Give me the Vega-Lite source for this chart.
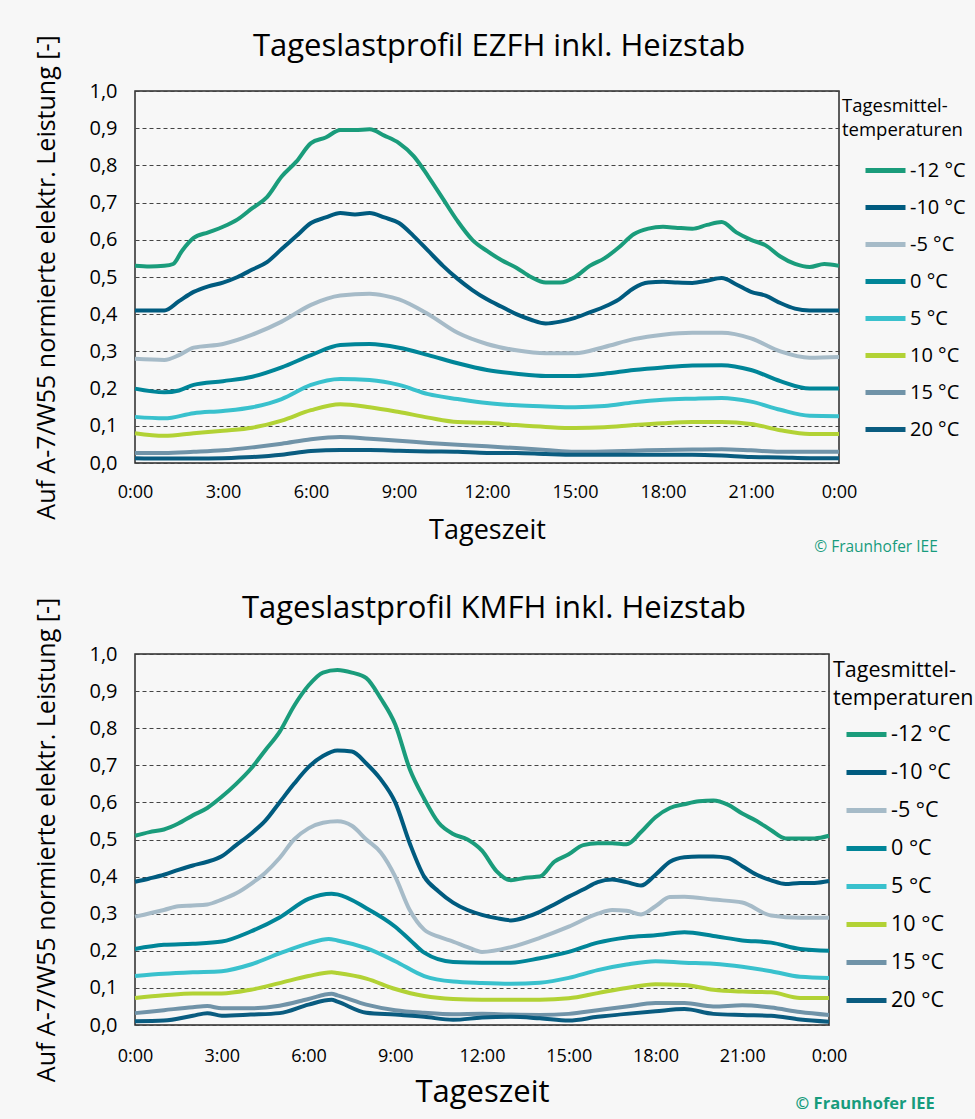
{
"$schema": "https://vega.github.io/schema/vega-lite/v6.json",
"background": "#f7f7f7",
"padding": {"left": 34, "top": 30, "right": 5, "bottom": 12},
"config": {
  "font": "Open Sans",
  "view": {"stroke": "#2a2a2a", "strokeWidth": 1.5},
  "axis": {"domain": false, "ticks": false, "labelColor": "#000", "titleColor": "#000", "titleFontWeight": "normal"},
  "axisY": {"grid": true, "gridColor": "#444", "gridDash": [4, 3], "gridWidth": 1, "labelPadding": 18, "titlePadding": 29, "titleFontSize": 25, "labelFontSize": 20},
  "axisX": {"grid": false, "labelFontSize": 18, "labelPadding": 20, "titlePadding": 16, "labelFlush": false},
  "legend": {"titleFontWeight": "normal", "titleColor": "#000", "labelColor": "#000", "symbolType": "stroke", "symbolStrokeWidth": 5, "symbolSize": 1600, "clipHeight": 30, "padding": 6, "labelOffset": 2},
  "title": {"fontWeight": "normal", "color": "#000"}
},
"data": {"name": "d"},
"spacing": 36,
"resolve": {"scale": {"color": "independent"}, "legend": {"color": "independent"}},
"vconcat": [
  {
    "title": {"text": "© Fraunhofer IEE", "orient": "bottom", "anchor": "end", "frame": "bounds", "fontSize": 15.5, "color": "#179c7d", "offset": -4, "dx": -35},
    "resolve": {"scale": {"color": "independent"}, "legend": {"color": "independent"}},
    "vconcat": [{
      "width": 704, "height": 372,
      "title": {"text": "Tageslastprofil EZFH inkl. Heizstab", "fontSize": 31, "anchor": "middle", "frame": "group", "offset": -28, "dx": 12},
      "transform": [{"filter": "datum.p == 1"}],
      "mark": {"type": "line", "strokeWidth": 4, "interpolate": "monotone"},
      "encoding": {
        "x": {"field": "t", "type": "quantitative", "scale": {"domain": [0, 24], "nice": false, "zero": false}, "axis": {"values": [0, 3, 6, 9, 12, 15, 18, 21, 24], "labelExpr": "(datum.value == 24 ? 0 : datum.value) + ':00'", "title": "Tageszeit", "titleFontSize": 27}},
        "y": {"field": "v", "type": "quantitative", "scale": {"domain": [0, 1], "nice": false}, "axis": {"values": [0, 0.1, 0.2, 0.3, 0.4, 0.5, 0.6, 0.7, 0.8, 0.9, 1], "labelExpr": "replace(format(datum.value, '.1f'), '.', ',')", "title": "Auf A-7/W55 normierte elektr. Leistung [-]"}},
        "color": {"field": "T", "type": "nominal", "scale": {"domain": [-12, -10, -5, 0, 5, 10, 15, 20], "range": ["#1a9c7b", "#005b7f", "#a6bbc8", "#008598", "#39c1cd", "#b2d235", "#7093a8", "#0a5c80"]}, "legend": {"title": ["Tagesmittel-", "temperaturen"], "labelExpr": "datum.label + ' °C'", "titleFontSize": 18.5, "titleLineHeight": 24, "labelFontSize": 20, "symbolOffset": 21, "rowPadding": 7, "offset": -11, "titlePadding": 16}}
      }
    }]
  },
  {
    "title": {"text": "© Fraunhofer IEE", "orient": "bottom", "anchor": "end", "frame": "bounds", "fontSize": 16.5, "fontWeight": "bold", "color": "#179c7d", "offset": -12, "dx": -46},
    "resolve": {"scale": {"color": "independent"}, "legend": {"color": "independent"}},
    "vconcat": [{
      "width": 694, "height": 371,
      "title": {"text": "Tageslastprofil KMFH inkl. Heizstab", "fontSize": 31, "anchor": "middle", "frame": "group", "offset": -28, "dx": 12},
      "transform": [{"filter": "datum.p == 2"}],
      "mark": {"type": "line", "strokeWidth": 4, "interpolate": "monotone"},
      "encoding": {
        "x": {"field": "t", "type": "quantitative", "scale": {"domain": [0, 24], "nice": false, "zero": false}, "axis": {"values": [0, 3, 6, 9, 12, 15, 18, 21, 24], "labelExpr": "(datum.value == 24 ? 0 : datum.value) + ':00'", "title": "Tageszeit", "titleFontSize": 31, "labelPadding": 22, "titlePadding": 12}},
        "y": {"field": "v", "type": "quantitative", "scale": {"domain": [0, 1], "nice": false}, "axis": {"values": [0, 0.1, 0.2, 0.3, 0.4, 0.5, 0.6, 0.7, 0.8, 0.9, 1], "labelExpr": "replace(format(datum.value, '.1f'), '.', ',')", "title": "Auf A-7/W55 normierte elektr. Leistung [-]"}},
        "color": {"field": "T", "type": "nominal", "scale": {"domain": [-12, -10, -5, 0, 5, 10, 15, 20], "range": ["#1a9c7b", "#005b7f", "#a6bbc8", "#008598", "#39c1cd", "#b2d235", "#7093a8", "#0a5c80"]}, "legend": {"title": ["Tagesmittel-", "temperaturen"], "labelExpr": "datum.label + ' °C'", "titleFontSize": 21.5, "titleLineHeight": 28, "labelFontSize": 21.5, "symbolOffset": 11, "rowPadding": 8, "offset": -10, "titlePadding": 10}}
      }
    }]
  }
],
"datasets": {"d": [
{"p":1,"T":-12,"t":0,"v":0.53},{"p":1,"T":-12,"t":0.5,"v":0.528},{"p":1,"T":-12,"t":1,"v":0.53},{"p":1,"T":-12,"t":1.3,"v":0.535},{"p":1,"T":-12,"t":1.6,"v":0.57},{"p":1,"T":-12,"t":2,"v":0.605},{"p":1,"T":-12,"t":2.5,"v":0.62},{"p":1,"T":-12,"t":3,"v":0.635},{"p":1,"T":-12,"t":3.5,"v":0.655},{"p":1,"T":-12,"t":4,"v":0.685},{"p":1,"T":-12,"t":4.5,"v":0.715},{"p":1,"T":-12,"t":5,"v":0.77},{"p":1,"T":-12,"t":5.5,"v":0.81},{"p":1,"T":-12,"t":6,"v":0.86},{"p":1,"T":-12,"t":6.5,"v":0.875},{"p":1,"T":-12,"t":7,"v":0.895},{"p":1,"T":-12,"t":7.5,"v":0.895},{"p":1,"T":-12,"t":8,"v":0.897},{"p":1,"T":-12,"t":8.5,"v":0.88},{"p":1,"T":-12,"t":9,"v":0.86},{"p":1,"T":-12,"t":9.5,"v":0.825},{"p":1,"T":-12,"t":10,"v":0.77},{"p":1,"T":-12,"t":10.5,"v":0.71},{"p":1,"T":-12,"t":11,"v":0.65},{"p":1,"T":-12,"t":11.5,"v":0.6},{"p":1,"T":-12,"t":12,"v":0.57},{"p":1,"T":-12,"t":12.5,"v":0.545},{"p":1,"T":-12,"t":13,"v":0.525},{"p":1,"T":-12,"t":13.5,"v":0.5},{"p":1,"T":-12,"t":14,"v":0.485},{"p":1,"T":-12,"t":14.5,"v":0.485},{"p":1,"T":-12,"t":15,"v":0.5},{"p":1,"T":-12,"t":15.5,"v":0.53},{"p":1,"T":-12,"t":16,"v":0.55},{"p":1,"T":-12,"t":16.5,"v":0.58},{"p":1,"T":-12,"t":17,"v":0.615},{"p":1,"T":-12,"t":17.5,"v":0.63},{"p":1,"T":-12,"t":18,"v":0.635},{"p":1,"T":-12,"t":18.5,"v":0.632},{"p":1,"T":-12,"t":19,"v":0.63},{"p":1,"T":-12,"t":19.5,"v":0.64},{"p":1,"T":-12,"t":20,"v":0.648},{"p":1,"T":-12,"t":20.5,"v":0.62},{"p":1,"T":-12,"t":21,"v":0.6},{"p":1,"T":-12,"t":21.5,"v":0.585},{"p":1,"T":-12,"t":22,"v":0.555},{"p":1,"T":-12,"t":22.5,"v":0.535},{"p":1,"T":-12,"t":23,"v":0.527},{"p":1,"T":-12,"t":23.5,"v":0.535},{"p":1,"T":-12,"t":24,"v":0.53},
{"p":1,"T":-10,"t":0,"v":0.41},{"p":1,"T":-10,"t":0.5,"v":0.41},{"p":1,"T":-10,"t":1,"v":0.41},{"p":1,"T":-10,"t":1.5,"v":0.435},{"p":1,"T":-10,"t":2,"v":0.46},{"p":1,"T":-10,"t":2.5,"v":0.475},{"p":1,"T":-10,"t":3,"v":0.485},{"p":1,"T":-10,"t":3.5,"v":0.5},{"p":1,"T":-10,"t":4,"v":0.52},{"p":1,"T":-10,"t":4.5,"v":0.54},{"p":1,"T":-10,"t":5,"v":0.575},{"p":1,"T":-10,"t":5.5,"v":0.61},{"p":1,"T":-10,"t":6,"v":0.645},{"p":1,"T":-10,"t":6.5,"v":0.66},{"p":1,"T":-10,"t":7,"v":0.672},{"p":1,"T":-10,"t":7.5,"v":0.668},{"p":1,"T":-10,"t":8,"v":0.672},{"p":1,"T":-10,"t":8.5,"v":0.66},{"p":1,"T":-10,"t":9,"v":0.645},{"p":1,"T":-10,"t":9.5,"v":0.61},{"p":1,"T":-10,"t":10,"v":0.57},{"p":1,"T":-10,"t":10.5,"v":0.53},{"p":1,"T":-10,"t":11,"v":0.495},{"p":1,"T":-10,"t":11.5,"v":0.465},{"p":1,"T":-10,"t":12,"v":0.44},{"p":1,"T":-10,"t":12.5,"v":0.42},{"p":1,"T":-10,"t":13,"v":0.4},{"p":1,"T":-10,"t":13.5,"v":0.385},{"p":1,"T":-10,"t":14,"v":0.375},{"p":1,"T":-10,"t":14.5,"v":0.38},{"p":1,"T":-10,"t":15,"v":0.39},{"p":1,"T":-10,"t":15.5,"v":0.405},{"p":1,"T":-10,"t":16,"v":0.42},{"p":1,"T":-10,"t":16.5,"v":0.44},{"p":1,"T":-10,"t":17,"v":0.47},{"p":1,"T":-10,"t":17.5,"v":0.485},{"p":1,"T":-10,"t":18,"v":0.487},{"p":1,"T":-10,"t":18.5,"v":0.485},{"p":1,"T":-10,"t":19,"v":0.484},{"p":1,"T":-10,"t":19.5,"v":0.49},{"p":1,"T":-10,"t":20,"v":0.497},{"p":1,"T":-10,"t":20.5,"v":0.48},{"p":1,"T":-10,"t":21,"v":0.46},{"p":1,"T":-10,"t":21.5,"v":0.45},{"p":1,"T":-10,"t":22,"v":0.43},{"p":1,"T":-10,"t":22.5,"v":0.415},{"p":1,"T":-10,"t":23,"v":0.41},{"p":1,"T":-10,"t":23.5,"v":0.41},{"p":1,"T":-10,"t":24,"v":0.41},
{"p":1,"T":-5,"t":0,"v":0.28},{"p":1,"T":-5,"t":1,"v":0.277},{"p":1,"T":-5,"t":1.5,"v":0.29},{"p":1,"T":-5,"t":2,"v":0.31},{"p":1,"T":-5,"t":3,"v":0.32},{"p":1,"T":-5,"t":4,"v":0.345},{"p":1,"T":-5,"t":5,"v":0.38},{"p":1,"T":-5,"t":6,"v":0.425},{"p":1,"T":-5,"t":7,"v":0.45},{"p":1,"T":-5,"t":8,"v":0.455},{"p":1,"T":-5,"t":8.5,"v":0.45},{"p":1,"T":-5,"t":9,"v":0.44},{"p":1,"T":-5,"t":10,"v":0.4},{"p":1,"T":-5,"t":11,"v":0.35},{"p":1,"T":-5,"t":12,"v":0.32},{"p":1,"T":-5,"t":13,"v":0.303},{"p":1,"T":-5,"t":14,"v":0.295},{"p":1,"T":-5,"t":15,"v":0.295},{"p":1,"T":-5,"t":16,"v":0.312},{"p":1,"T":-5,"t":17,"v":0.333},{"p":1,"T":-5,"t":18,"v":0.345},{"p":1,"T":-5,"t":19,"v":0.35},{"p":1,"T":-5,"t":20,"v":0.35},{"p":1,"T":-5,"t":21,"v":0.335},{"p":1,"T":-5,"t":22,"v":0.3},{"p":1,"T":-5,"t":23,"v":0.283},{"p":1,"T":-5,"t":24,"v":0.285},
{"p":1,"T":0,"t":0,"v":0.2},{"p":1,"T":0,"t":1,"v":0.19},{"p":1,"T":0,"t":1.5,"v":0.195},{"p":1,"T":0,"t":2,"v":0.21},{"p":1,"T":0,"t":3,"v":0.22},{"p":1,"T":0,"t":4,"v":0.232},{"p":1,"T":0,"t":5,"v":0.257},{"p":1,"T":0,"t":6,"v":0.29},{"p":1,"T":0,"t":7,"v":0.317},{"p":1,"T":0,"t":8,"v":0.32},{"p":1,"T":0,"t":9,"v":0.31},{"p":1,"T":0,"t":10,"v":0.29},{"p":1,"T":0,"t":11,"v":0.268},{"p":1,"T":0,"t":12,"v":0.25},{"p":1,"T":0,"t":13,"v":0.24},{"p":1,"T":0,"t":14,"v":0.234},{"p":1,"T":0,"t":15,"v":0.234},{"p":1,"T":0,"t":16,"v":0.24},{"p":1,"T":0,"t":17,"v":0.25},{"p":1,"T":0,"t":18,"v":0.257},{"p":1,"T":0,"t":19,"v":0.262},{"p":1,"T":0,"t":20,"v":0.263},{"p":1,"T":0,"t":21,"v":0.25},{"p":1,"T":0,"t":22,"v":0.22},{"p":1,"T":0,"t":23,"v":0.2},{"p":1,"T":0,"t":24,"v":0.2},
{"p":1,"T":5,"t":0,"v":0.124},{"p":1,"T":5,"t":1,"v":0.12},{"p":1,"T":5,"t":2,"v":0.134},{"p":1,"T":5,"t":3,"v":0.14},{"p":1,"T":5,"t":4,"v":0.15},{"p":1,"T":5,"t":5,"v":0.172},{"p":1,"T":5,"t":6,"v":0.21},{"p":1,"T":5,"t":7,"v":0.226},{"p":1,"T":5,"t":8,"v":0.223},{"p":1,"T":5,"t":9,"v":0.21},{"p":1,"T":5,"t":10,"v":0.185},{"p":1,"T":5,"t":11,"v":0.172},{"p":1,"T":5,"t":12,"v":0.161},{"p":1,"T":5,"t":13,"v":0.155},{"p":1,"T":5,"t":14,"v":0.152},{"p":1,"T":5,"t":15,"v":0.15},{"p":1,"T":5,"t":16,"v":0.153},{"p":1,"T":5,"t":17,"v":0.163},{"p":1,"T":5,"t":18,"v":0.17},{"p":1,"T":5,"t":19,"v":0.173},{"p":1,"T":5,"t":20,"v":0.175},{"p":1,"T":5,"t":21,"v":0.165},{"p":1,"T":5,"t":22,"v":0.143},{"p":1,"T":5,"t":23,"v":0.127},{"p":1,"T":5,"t":24,"v":0.126},
{"p":1,"T":10,"t":0,"v":0.08},{"p":1,"T":10,"t":1,"v":0.073},{"p":1,"T":10,"t":2,"v":0.08},{"p":1,"T":10,"t":3,"v":0.087},{"p":1,"T":10,"t":4,"v":0.095},{"p":1,"T":10,"t":5,"v":0.114},{"p":1,"T":10,"t":6,"v":0.142},{"p":1,"T":10,"t":7,"v":0.158},{"p":1,"T":10,"t":8,"v":0.15},{"p":1,"T":10,"t":9,"v":0.137},{"p":1,"T":10,"t":10,"v":0.122},{"p":1,"T":10,"t":11,"v":0.11},{"p":1,"T":10,"t":12,"v":0.108},{"p":1,"T":10,"t":13,"v":0.102},{"p":1,"T":10,"t":14,"v":0.097},{"p":1,"T":10,"t":15,"v":0.094},{"p":1,"T":10,"t":16,"v":0.096},{"p":1,"T":10,"t":17,"v":0.102},{"p":1,"T":10,"t":18,"v":0.107},{"p":1,"T":10,"t":19,"v":0.11},{"p":1,"T":10,"t":20,"v":0.11},{"p":1,"T":10,"t":21,"v":0.105},{"p":1,"T":10,"t":22,"v":0.088},{"p":1,"T":10,"t":23,"v":0.078},{"p":1,"T":10,"t":24,"v":0.078},
{"p":1,"T":15,"t":0,"v":0.027},{"p":1,"T":15,"t":1,"v":0.027},{"p":1,"T":15,"t":2,"v":0.03},{"p":1,"T":15,"t":3,"v":0.034},{"p":1,"T":15,"t":4,"v":0.042},{"p":1,"T":15,"t":5,"v":0.052},{"p":1,"T":15,"t":6,"v":0.064},{"p":1,"T":15,"t":7,"v":0.07},{"p":1,"T":15,"t":8,"v":0.065},{"p":1,"T":15,"t":9,"v":0.06},{"p":1,"T":15,"t":10,"v":0.054},{"p":1,"T":15,"t":11,"v":0.049},{"p":1,"T":15,"t":12,"v":0.045},{"p":1,"T":15,"t":13,"v":0.04},{"p":1,"T":15,"t":14,"v":0.035},{"p":1,"T":15,"t":15,"v":0.03},{"p":1,"T":15,"t":16,"v":0.031},{"p":1,"T":15,"t":17,"v":0.033},{"p":1,"T":15,"t":18,"v":0.035},{"p":1,"T":15,"t":19,"v":0.036},{"p":1,"T":15,"t":20,"v":0.037},{"p":1,"T":15,"t":21,"v":0.034},{"p":1,"T":15,"t":22,"v":0.03},{"p":1,"T":15,"t":23,"v":0.03},{"p":1,"T":15,"t":24,"v":0.03},
{"p":1,"T":20,"t":0,"v":0.013},{"p":1,"T":20,"t":1,"v":0.012},{"p":1,"T":20,"t":2,"v":0.012},{"p":1,"T":20,"t":3,"v":0.013},{"p":1,"T":20,"t":4,"v":0.016},{"p":1,"T":20,"t":5,"v":0.022},{"p":1,"T":20,"t":6,"v":0.032},{"p":1,"T":20,"t":7,"v":0.035},{"p":1,"T":20,"t":8,"v":0.035},{"p":1,"T":20,"t":9,"v":0.033},{"p":1,"T":20,"t":10,"v":0.031},{"p":1,"T":20,"t":11,"v":0.03},{"p":1,"T":20,"t":12,"v":0.027},{"p":1,"T":20,"t":13,"v":0.027},{"p":1,"T":20,"t":14,"v":0.024},{"p":1,"T":20,"t":15,"v":0.022},{"p":1,"T":20,"t":16,"v":0.022},{"p":1,"T":20,"t":17,"v":0.022},{"p":1,"T":20,"t":18,"v":0.022},{"p":1,"T":20,"t":19,"v":0.022},{"p":1,"T":20,"t":20,"v":0.02},{"p":1,"T":20,"t":21,"v":0.016},{"p":1,"T":20,"t":22,"v":0.015},{"p":1,"T":20,"t":23,"v":0.013},{"p":1,"T":20,"t":24,"v":0.013},
{"p":2,"T":-12,"t":0,"v":0.51},{"p":2,"T":-12,"t":0.5,"v":0.52},{"p":2,"T":-12,"t":1,"v":0.527},{"p":2,"T":-12,"t":1.5,"v":0.543},{"p":2,"T":-12,"t":2,"v":0.565},{"p":2,"T":-12,"t":2.5,"v":0.585},{"p":2,"T":-12,"t":3,"v":0.615},{"p":2,"T":-12,"t":3.5,"v":0.65},{"p":2,"T":-12,"t":4,"v":0.69},{"p":2,"T":-12,"t":4.5,"v":0.74},{"p":2,"T":-12,"t":5,"v":0.79},{"p":2,"T":-12,"t":5.5,"v":0.86},{"p":2,"T":-12,"t":6,"v":0.915},{"p":2,"T":-12,"t":6.5,"v":0.95},{"p":2,"T":-12,"t":7,"v":0.957},{"p":2,"T":-12,"t":7.5,"v":0.95},{"p":2,"T":-12,"t":8,"v":0.935},{"p":2,"T":-12,"t":8.5,"v":0.88},{"p":2,"T":-12,"t":9,"v":0.81},{"p":2,"T":-12,"t":9.5,"v":0.69},{"p":2,"T":-12,"t":10,"v":0.61},{"p":2,"T":-12,"t":10.5,"v":0.545},{"p":2,"T":-12,"t":11,"v":0.515},{"p":2,"T":-12,"t":11.5,"v":0.5},{"p":2,"T":-12,"t":12,"v":0.47},{"p":2,"T":-12,"t":12.5,"v":0.415},{"p":2,"T":-12,"t":13,"v":0.39},{"p":2,"T":-12,"t":13.5,"v":0.397},{"p":2,"T":-12,"t":14,"v":0.4},{"p":2,"T":-12,"t":14.5,"v":0.44},{"p":2,"T":-12,"t":15,"v":0.46},{"p":2,"T":-12,"t":15.5,"v":0.485},{"p":2,"T":-12,"t":16,"v":0.49},{"p":2,"T":-12,"t":16.5,"v":0.49},{"p":2,"T":-12,"t":17,"v":0.487},{"p":2,"T":-12,"t":17.5,"v":0.52},{"p":2,"T":-12,"t":18,"v":0.56},{"p":2,"T":-12,"t":18.5,"v":0.585},{"p":2,"T":-12,"t":19,"v":0.595},{"p":2,"T":-12,"t":19.5,"v":0.603},{"p":2,"T":-12,"t":20,"v":0.605},{"p":2,"T":-12,"t":20.5,"v":0.594},{"p":2,"T":-12,"t":21,"v":0.57},{"p":2,"T":-12,"t":21.5,"v":0.55},{"p":2,"T":-12,"t":22,"v":0.525},{"p":2,"T":-12,"t":22.5,"v":0.503},{"p":2,"T":-12,"t":23,"v":0.503},{"p":2,"T":-12,"t":23.5,"v":0.503},{"p":2,"T":-12,"t":24,"v":0.51},
{"p":2,"T":-10,"t":0,"v":0.386},{"p":2,"T":-10,"t":0.5,"v":0.395},{"p":2,"T":-10,"t":1,"v":0.405},{"p":2,"T":-10,"t":1.5,"v":0.418},{"p":2,"T":-10,"t":2,"v":0.43},{"p":2,"T":-10,"t":2.5,"v":0.44},{"p":2,"T":-10,"t":3,"v":0.455},{"p":2,"T":-10,"t":3.5,"v":0.485},{"p":2,"T":-10,"t":4,"v":0.515},{"p":2,"T":-10,"t":4.5,"v":0.55},{"p":2,"T":-10,"t":5,"v":0.6},{"p":2,"T":-10,"t":5.5,"v":0.65},{"p":2,"T":-10,"t":6,"v":0.695},{"p":2,"T":-10,"t":6.5,"v":0.725},{"p":2,"T":-10,"t":7,"v":0.74},{"p":2,"T":-10,"t":7.5,"v":0.737},{"p":2,"T":-10,"t":8,"v":0.705},{"p":2,"T":-10,"t":8.5,"v":0.662},{"p":2,"T":-10,"t":9,"v":0.6},{"p":2,"T":-10,"t":9.5,"v":0.49},{"p":2,"T":-10,"t":10,"v":0.4},{"p":2,"T":-10,"t":10.5,"v":0.36},{"p":2,"T":-10,"t":11,"v":0.33},{"p":2,"T":-10,"t":11.5,"v":0.31},{"p":2,"T":-10,"t":12,"v":0.297},{"p":2,"T":-10,"t":12.5,"v":0.288},{"p":2,"T":-10,"t":13,"v":0.282},{"p":2,"T":-10,"t":13.5,"v":0.29},{"p":2,"T":-10,"t":14,"v":0.305},{"p":2,"T":-10,"t":14.5,"v":0.325},{"p":2,"T":-10,"t":15,"v":0.346},{"p":2,"T":-10,"t":15.5,"v":0.365},{"p":2,"T":-10,"t":16,"v":0.385},{"p":2,"T":-10,"t":16.5,"v":0.392},{"p":2,"T":-10,"t":17,"v":0.385},{"p":2,"T":-10,"t":17.5,"v":0.376},{"p":2,"T":-10,"t":18,"v":0.405},{"p":2,"T":-10,"t":18.5,"v":0.44},{"p":2,"T":-10,"t":19,"v":0.452},{"p":2,"T":-10,"t":19.5,"v":0.454},{"p":2,"T":-10,"t":20,"v":0.454},{"p":2,"T":-10,"t":20.5,"v":0.45},{"p":2,"T":-10,"t":21,"v":0.428},{"p":2,"T":-10,"t":21.5,"v":0.405},{"p":2,"T":-10,"t":22,"v":0.39},{"p":2,"T":-10,"t":22.5,"v":0.38},{"p":2,"T":-10,"t":23,"v":0.383},{"p":2,"T":-10,"t":23.5,"v":0.383},{"p":2,"T":-10,"t":24,"v":0.388},
{"p":2,"T":-5,"t":0,"v":0.292},{"p":2,"T":-5,"t":1,"v":0.31},{"p":2,"T":-5,"t":1.5,"v":0.32},{"p":2,"T":-5,"t":2,"v":0.322},{"p":2,"T":-5,"t":2.5,"v":0.325},{"p":2,"T":-5,"t":3,"v":0.338},{"p":2,"T":-5,"t":3.5,"v":0.355},{"p":2,"T":-5,"t":4,"v":0.38},{"p":2,"T":-5,"t":4.5,"v":0.41},{"p":2,"T":-5,"t":5,"v":0.45},{"p":2,"T":-5,"t":5.5,"v":0.5},{"p":2,"T":-5,"t":6,"v":0.53},{"p":2,"T":-5,"t":6.5,"v":0.545},{"p":2,"T":-5,"t":7,"v":0.549},{"p":2,"T":-5,"t":7.5,"v":0.537},{"p":2,"T":-5,"t":8,"v":0.5},{"p":2,"T":-5,"t":8.5,"v":0.465},{"p":2,"T":-5,"t":9,"v":0.4},{"p":2,"T":-5,"t":9.5,"v":0.31},{"p":2,"T":-5,"t":10,"v":0.257},{"p":2,"T":-5,"t":10.5,"v":0.238},{"p":2,"T":-5,"t":11,"v":0.225},{"p":2,"T":-5,"t":11.5,"v":0.21},{"p":2,"T":-5,"t":12,"v":0.197},{"p":2,"T":-5,"t":13,"v":0.21},{"p":2,"T":-5,"t":14,"v":0.235},{"p":2,"T":-5,"t":15,"v":0.265},{"p":2,"T":-5,"t":16,"v":0.3},{"p":2,"T":-5,"t":16.5,"v":0.31},{"p":2,"T":-5,"t":17,"v":0.308},{"p":2,"T":-5,"t":17.5,"v":0.298},{"p":2,"T":-5,"t":18,"v":0.32},{"p":2,"T":-5,"t":18.5,"v":0.345},{"p":2,"T":-5,"t":19,"v":0.346},{"p":2,"T":-5,"t":20,"v":0.338},{"p":2,"T":-5,"t":21,"v":0.33},{"p":2,"T":-5,"t":22,"v":0.295},{"p":2,"T":-5,"t":23,"v":0.289},{"p":2,"T":-5,"t":24,"v":0.289},
{"p":2,"T":0,"t":0,"v":0.205},{"p":2,"T":0,"t":1,"v":0.216},{"p":2,"T":0,"t":2,"v":0.219},{"p":2,"T":0,"t":3,"v":0.225},{"p":2,"T":0,"t":4,"v":0.252},{"p":2,"T":0,"t":5,"v":0.29},{"p":2,"T":0,"t":6,"v":0.34},{"p":2,"T":0,"t":6.8,"v":0.354},{"p":2,"T":0,"t":7,"v":0.352},{"p":2,"T":0,"t":8,"v":0.315},{"p":2,"T":0,"t":9,"v":0.265},{"p":2,"T":0,"t":9.5,"v":0.23},{"p":2,"T":0,"t":10,"v":0.195},{"p":2,"T":0,"t":11,"v":0.17},{"p":2,"T":0,"t":12,"v":0.168},{"p":2,"T":0,"t":13,"v":0.168},{"p":2,"T":0,"t":14,"v":0.18},{"p":2,"T":0,"t":15,"v":0.197},{"p":2,"T":0,"t":16,"v":0.222},{"p":2,"T":0,"t":17,"v":0.236},{"p":2,"T":0,"t":18,"v":0.242},{"p":2,"T":0,"t":19,"v":0.25},{"p":2,"T":0,"t":20,"v":0.24},{"p":2,"T":0,"t":21,"v":0.228},{"p":2,"T":0,"t":22,"v":0.222},{"p":2,"T":0,"t":23,"v":0.205},{"p":2,"T":0,"t":24,"v":0.2},
{"p":2,"T":5,"t":0,"v":0.132},{"p":2,"T":5,"t":1,"v":0.138},{"p":2,"T":5,"t":2,"v":0.142},{"p":2,"T":5,"t":3,"v":0.145},{"p":2,"T":5,"t":4,"v":0.163},{"p":2,"T":5,"t":5,"v":0.193},{"p":2,"T":5,"t":6,"v":0.22},{"p":2,"T":5,"t":6.7,"v":0.232},{"p":2,"T":5,"t":7,"v":0.228},{"p":2,"T":5,"t":8,"v":0.207},{"p":2,"T":5,"t":9,"v":0.172},{"p":2,"T":5,"t":10,"v":0.132},{"p":2,"T":5,"t":11,"v":0.117},{"p":2,"T":5,"t":12,"v":0.113},{"p":2,"T":5,"t":13,"v":0.111},{"p":2,"T":5,"t":14,"v":0.114},{"p":2,"T":5,"t":15,"v":0.127},{"p":2,"T":5,"t":16,"v":0.148},{"p":2,"T":5,"t":17,"v":0.163},{"p":2,"T":5,"t":18,"v":0.172},{"p":2,"T":5,"t":19,"v":0.168},{"p":2,"T":5,"t":20,"v":0.165},{"p":2,"T":5,"t":21,"v":0.157},{"p":2,"T":5,"t":22,"v":0.145},{"p":2,"T":5,"t":23,"v":0.13},{"p":2,"T":5,"t":24,"v":0.127},
{"p":2,"T":10,"t":0,"v":0.073},{"p":2,"T":10,"t":1,"v":0.08},{"p":2,"T":10,"t":2,"v":0.085},{"p":2,"T":10,"t":3,"v":0.085},{"p":2,"T":10,"t":4,"v":0.095},{"p":2,"T":10,"t":5,"v":0.113},{"p":2,"T":10,"t":6,"v":0.132},{"p":2,"T":10,"t":6.8,"v":0.142},{"p":2,"T":10,"t":7,"v":0.14},{"p":2,"T":10,"t":8,"v":0.125},{"p":2,"T":10,"t":9,"v":0.097},{"p":2,"T":10,"t":10,"v":0.078},{"p":2,"T":10,"t":11,"v":0.07},{"p":2,"T":10,"t":12,"v":0.068},{"p":2,"T":10,"t":13,"v":0.068},{"p":2,"T":10,"t":14,"v":0.068},{"p":2,"T":10,"t":15,"v":0.072},{"p":2,"T":10,"t":16,"v":0.086},{"p":2,"T":10,"t":17,"v":0.1},{"p":2,"T":10,"t":18,"v":0.11},{"p":2,"T":10,"t":19,"v":0.108},{"p":2,"T":10,"t":20,"v":0.095},{"p":2,"T":10,"t":21,"v":0.09},{"p":2,"T":10,"t":22,"v":0.088},{"p":2,"T":10,"t":23,"v":0.073},{"p":2,"T":10,"t":24,"v":0.073},
{"p":2,"T":15,"t":0,"v":0.032},{"p":2,"T":15,"t":1,"v":0.04},{"p":2,"T":15,"t":2,"v":0.048},{"p":2,"T":15,"t":2.5,"v":0.051},{"p":2,"T":15,"t":3,"v":0.045},{"p":2,"T":15,"t":4,"v":0.045},{"p":2,"T":15,"t":5,"v":0.052},{"p":2,"T":15,"t":6,"v":0.07},{"p":2,"T":15,"t":6.8,"v":0.084},{"p":2,"T":15,"t":7,"v":0.08},{"p":2,"T":15,"t":8,"v":0.055},{"p":2,"T":15,"t":9,"v":0.04},{"p":2,"T":15,"t":10,"v":0.033},{"p":2,"T":15,"t":11,"v":0.029},{"p":2,"T":15,"t":12,"v":0.03},{"p":2,"T":15,"t":13,"v":0.028},{"p":2,"T":15,"t":14,"v":0.027},{"p":2,"T":15,"t":15,"v":0.03},{"p":2,"T":15,"t":16,"v":0.04},{"p":2,"T":15,"t":17,"v":0.05},{"p":2,"T":15,"t":18,"v":0.059},{"p":2,"T":15,"t":19,"v":0.059},{"p":2,"T":15,"t":20,"v":0.05},{"p":2,"T":15,"t":21,"v":0.053},{"p":2,"T":15,"t":22,"v":0.047},{"p":2,"T":15,"t":23,"v":0.035},{"p":2,"T":15,"t":24,"v":0.027},
{"p":2,"T":20,"t":0,"v":0.01},{"p":2,"T":20,"t":1,"v":0.012},{"p":2,"T":20,"t":2,"v":0.025},{"p":2,"T":20,"t":2.5,"v":0.032},{"p":2,"T":20,"t":3,"v":0.025},{"p":2,"T":20,"t":4,"v":0.028},{"p":2,"T":20,"t":5,"v":0.032},{"p":2,"T":20,"t":6,"v":0.055},{"p":2,"T":20,"t":6.8,"v":0.068},{"p":2,"T":20,"t":7,"v":0.063},{"p":2,"T":20,"t":8,"v":0.033},{"p":2,"T":20,"t":9,"v":0.028},{"p":2,"T":20,"t":10,"v":0.022},{"p":2,"T":20,"t":11,"v":0.014},{"p":2,"T":20,"t":12,"v":0.02},{"p":2,"T":20,"t":13,"v":0.022},{"p":2,"T":20,"t":14,"v":0.018},{"p":2,"T":20,"t":15,"v":0.012},{"p":2,"T":20,"t":16,"v":0.022},{"p":2,"T":20,"t":17,"v":0.03},{"p":2,"T":20,"t":18,"v":0.037},{"p":2,"T":20,"t":19,"v":0.043},{"p":2,"T":20,"t":20,"v":0.03},{"p":2,"T":20,"t":21,"v":0.027},{"p":2,"T":20,"t":22,"v":0.025},{"p":2,"T":20,"t":23,"v":0.015},{"p":2,"T":20,"t":24,"v":0.009}
]}
}
